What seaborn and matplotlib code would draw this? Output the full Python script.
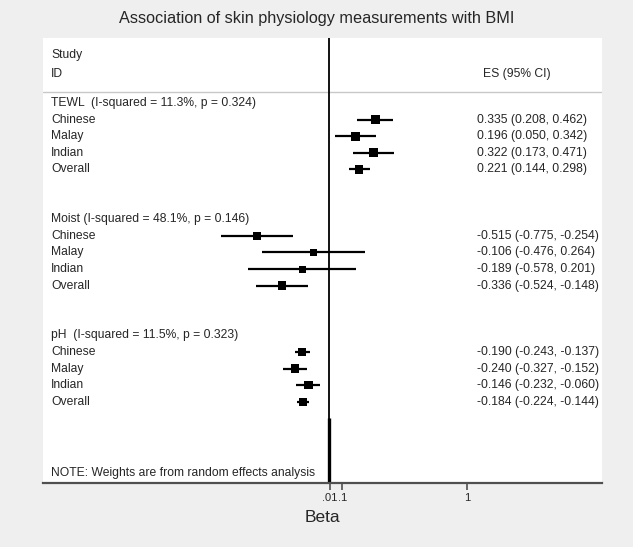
import matplotlib
matplotlib.use("Agg")
import matplotlib.pyplot as plt
import seaborn as sns
import pandas as pd
import numpy as np

sns.set_theme(style="white")
plt.rcParams['font.family'] = ['Liberation Sans', 'DejaVu Sans']

# ---- data ----
groups = ["TEWL", "Moist", "pH"]
group_headers = ["TEWL  (I-squared = 11.3%, p = 0.324)",
                 "Moist (I-squared = 48.1%, p = 0.146)",
                 "pH  (I-squared = 11.5%, p = 0.323)"]
studies = ["Chinese", "Malay", "Indian", "Overall"]
es = [0.335, 0.196, 0.322, 0.221,
      -0.515, -0.106, -0.189, -0.336,
      -0.190, -0.240, -0.146, -0.184]
lo = [0.208, 0.050, 0.173, 0.144,
      -0.775, -0.476, -0.578, -0.524,
      -0.243, -0.327, -0.232, -0.224]
hi = [0.462, 0.342, 0.471, 0.298,
      -0.254, 0.264, 0.201, -0.148,
      -0.137, -0.152, -0.060, -0.144]
weights = [9, 9, 9, 8.5,
           8, 7, 7, 8.5,
           8, 8.5, 8.5, 8]
tick_vals = [0.01, 0.1, 1]
tick_labels = [".01", ".1", "1"]

# ---- build table ----
rows = []
k = 0
for g_i, g in enumerate(groups):
    for s_i, s in enumerate(studies):
        rows.append(dict(group=g, study=s, es=es[k], lo=lo[k], hi=hi[k],
                         w=weights[k], row=g_i * 7 + 1 + s_i))
        k += 1
df = pd.DataFrame(rows)

fig = plt.figure(figsize=(6.33, 5.47), dpi=100, facecolor="#efefef")
ax = fig.add_axes([43/633, 1 - 483/547, (602-43)/633, (483-38)/547])
ax.set_facecolor("white")

# CI lines
ax.hlines(df["row"], df["lo"], df["hi"], color="black", lw=1.6, zorder=2)
# markers
sq = (df["w"] * 72 / 100) ** 2
sns.scatterplot(data=df, x="es", y="row", marker="s", color="black",
                s=sq, edgecolor="black", linewidth=0, ax=ax, zorder=3, legend=False)

ax.set_xlim(-2.057, 1.97)
ax.set_ylim(22.89, -3.92)

# null line
ax.axvline(0, color="black", lw=1.3, zorder=1)
ax.plot([0, 0], [19.0, 22.89], color="black", lw=2.4, zorder=1, solid_capstyle="butt")

# header separator
ax.axhline(-0.66, color="#c8c8c8", lw=1.0, zorder=0)

fs = 8.7
tr = ax.get_yaxis_transform()
ax.text(0.0143, -2.9, "Study", transform=tr, fontsize=fs, va="center", ha="left")
ax.text(0.0143, -1.75, "ID", transform=tr, fontsize=fs, va="center", ha="left")
ax.text(0.787, -1.75, "ES (95% CI)", transform=tr, fontsize=fs, va="center", ha="left")

for g_i, h in enumerate(group_headers):
    ax.text(0.0143, g_i * 7, h, transform=tr, fontsize=fs, va="center", ha="left")
for _, r in df.iterrows():
    ax.text(0.0143, r["row"], r["study"], transform=tr, fontsize=fs, va="center", ha="left")
    ax.text(0.776, r["row"], f"{r['es']:.3f} ({r['lo']:.3f}, {r['hi']:.3f})",
            transform=tr, fontsize=fs, va="center", ha="left")

ax.text(0.0143, 22.3, "NOTE: Weights are from random effects analysis",
        transform=tr, fontsize=fs, va="center", ha="left")

# axes styling
for sp in ["left", "right", "top"]:
    ax.spines[sp].set_visible(False)
ax.spines["bottom"].set_color("#505050")
ax.spines["bottom"].set_linewidth(1.6)
ax.set_yticks([])
ax.set_xticks(tick_vals)
ax.set_xticklabels(tick_labels, fontsize=8)
ax.tick_params(axis="x", direction="out", length=5, width=1.2, color="#505050", pad=2,
               bottom=True)
ax.set_xlabel("Beta", fontsize=12.5, labelpad=5)
ax.set_ylabel("")

fig.text(0.5, 1 - 18/547, "Association of skin physiology measurements with BMI",
         ha="center", va="center", fontsize=11.7)

fig.savefig("out.png", dpi=100, facecolor=fig.get_facecolor())
